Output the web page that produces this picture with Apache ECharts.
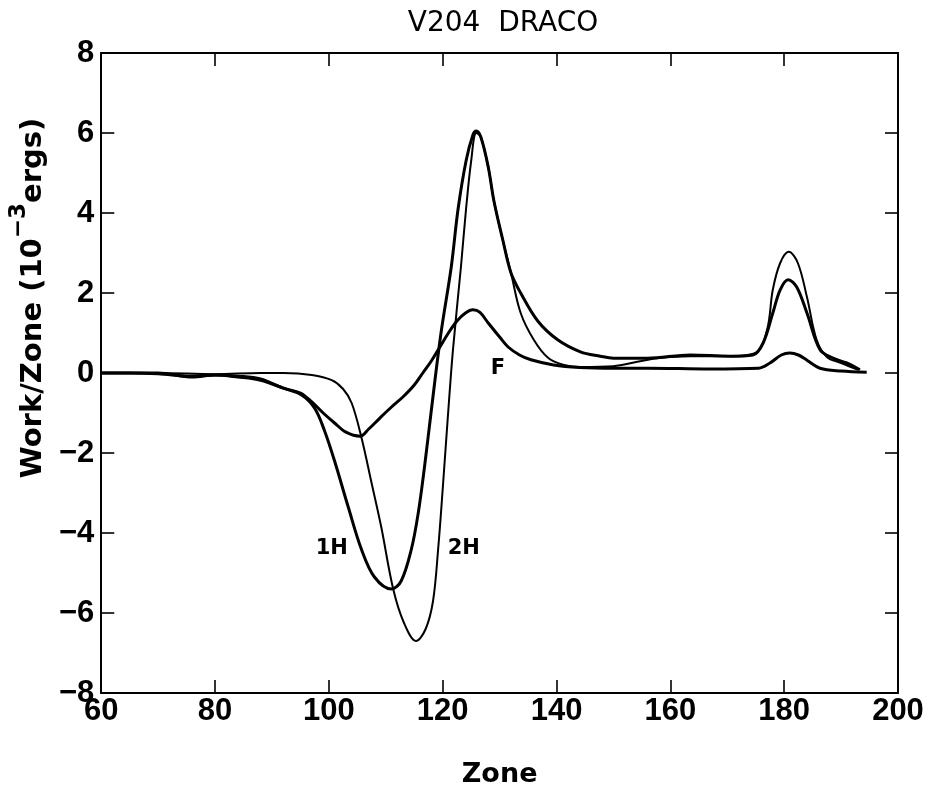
<!DOCTYPE html>
<html>
<head>
<meta charset="utf-8">
<script src="https://cdn.jsdelivr.net/npm/echarts/dist/echarts.min.js"></script>
<style>
html,body{margin:0;padding:0;background:#fff;}
#chart{width:937px;height:793px;}
</style>
</head>
<body>
<div id="chart"></div>
<script>
// ---- data ----
var xTicks = [60, 80, 100, 120, 140, 160, 180, 200];
var yTicks = [-8, -6, -4, -2, 0, 2, 4, 6, 8];

var fZone = [60, 65, 70, 76, 80, 84, 88, 92, 95, 97, 99, 101, 103, 105.5, 107, 109, 111, 113, 115, 116.5, 118, 119.5, 121, 122.5, 124, 125.3, 126.5, 128, 130, 131.5, 133.5, 135.5, 139.5, 144, 150, 156, 167, 175.5, 177.5, 179.5, 181, 182.5, 184, 186.3, 190, 194.5];
var fWork = [0, 0, -0.02, -0.08, -0.05, -0.08, -0.15, -0.38, -0.5, -0.72, -1.0, -1.25, -1.48, -1.58, -1.4, -1.12, -0.85, -0.6, -0.3, 0, 0.3, 0.65, 1.0, 1.3, 1.5, 1.58, 1.52, 1.25, 0.9, 0.65, 0.45, 0.33, 0.2, 0.14, 0.12, 0.12, 0.1, 0.12, 0.25, 0.45, 0.5, 0.45, 0.32, 0.12, 0.05, 0.02];

var h1Zone = [60, 70, 76, 80, 84, 88, 92, 95.2, 97.5, 99.2, 101, 103.4, 105.7, 108, 111, 112.7, 114.5, 115.7, 116.8, 118, 119.7, 121.5, 122.7, 124.1, 125.3, 125.9, 126.7, 128, 129, 130.6, 132, 133.7, 136.7, 140.2, 144.2, 147.7, 150, 156, 163.5, 170.5, 174.5, 176.3, 178, 179.3, 180.7, 182.2, 184, 186.3, 188.6, 191, 193.3];
var h1Work = [0, 0, -0.1, -0.05, -0.1, -0.18, -0.38, -0.55, -0.88, -1.43, -2.2, -3.35, -4.4, -5.1, -5.4, -5.2, -4.4, -3.5, -2.35, -0.93, 1.0, 2.65, 4.1, 5.3, 5.95, 6.05, 5.9, 5.15, 4.3, 3.3, 2.5, 2.0, 1.3, 0.83, 0.53, 0.42, 0.37, 0.37, 0.45, 0.42, 0.45, 0.75, 1.5, 2.08, 2.33, 2.15, 1.5, 0.58, 0.37, 0.25, 0.08];

var h2Zone = [60, 70, 80, 88, 92, 97, 100.5, 102.5, 104, 105.7, 107.5, 109.2, 111.3, 113.2, 115.3, 117, 118.3, 119.2, 120, 120.9, 121.8, 123.2, 124.1, 125, 125.9, 126.7, 128, 129, 130.6, 132, 133.7, 136, 138.5, 141.3, 144.2, 150, 154.2, 157.7, 163.5, 170.5, 175, 177, 178, 179.3, 180.8, 182.4, 184, 185.7, 187.5, 190, 193];
var h2Work = [0, 0, -0.03, 0, 0, -0.05, -0.18, -0.4, -0.75, -1.6, -2.75, -3.85, -5.4, -6.25, -6.7, -6.4, -5.7, -4.4, -2.9, -1.1, 0.58, 2.65, 4.1, 5.3, 6.0, 5.9, 5.15, 4.3, 3.3, 2.5, 1.5, 0.83, 0.38, 0.2, 0.15, 0.17, 0.28, 0.37, 0.42, 0.42, 0.5, 1.08, 2.08, 2.75, 3.03, 2.75, 1.9, 0.83, 0.4, 0.25, 0.08];

var curveLabels = ['1H', '2H', 'F'];
var labelZone = [100.5, 123.7, 129.7];
var labelWork = [-4.4, -4.4, 0.1];

function zip(a, b) { return a.map(function (v, i) { return [v, b[i]]; }); }

var chart = echarts.init(document.getElementById('chart'));
var fontFam = '"Liberation Sans", Arial, sans-serif';
var nameFam = '"DejaVu Sans", sans-serif';
var lineStyleAxis = { color: '#000', width: 2 };
var tickStyle = { show: true, inside: true, length: 13, lineStyle: { color: '#000', width: 1.6 } };

chart.setOption({
  animation: false,
  backgroundColor: '#fff',
  title: {
    text: 'V204  DRACO',
    left: 498, top: 5, textAlign: 'center',
    textStyle: { fontFamily: nameFam, fontSize: 28, fontWeight: 'normal', color: '#000' }
  },
  grid: { left: 99, right: 39, top: 53, bottom: 100 },
  xAxis: [{
    type: 'value', position: 'bottom', min: 60, max: 200, interval: 20,
    name: 'Zone', nameLocation: 'middle', nameGap: 68,
    nameTextStyle: { fontFamily: nameFam, fontSize: 27, fontWeight: 'bold', color: '#000' },
    axisLine: { show: true, onZero: false, lineStyle: lineStyleAxis },
    axisTick: tickStyle,
    axisLabel: { fontFamily: fontFam, fontSize: 31, fontWeight: 'bold', color: '#000', margin: 3 },
    splitLine: { show: false }
  }, {
    type: 'value', position: 'top', min: 60, max: 200, interval: 20,
    axisLine: { show: true, onZero: false, lineStyle: lineStyleAxis },
    axisTick: tickStyle,
    axisLabel: { show: false },
    splitLine: { show: false }
  }],
  yAxis: [{
    type: 'value', position: 'left', min: -8, max: 8, interval: 2,
    name: '{a|Work/Zone (10}{s|−3}{a|ergs)}', nameLocation: 'middle', nameGap: 52, nameRotate: 90,
    nameTextStyle: {
      padding: [0, 0, 0, 150],
      rich: {
        a: { fontFamily: nameFam, fontSize: 29, fontWeight: 'bold', color: '#000', lineHeight: 40, verticalAlign: 'bottom' },
        s: { fontFamily: nameFam, fontSize: 23, fontWeight: 'bold', color: '#000', lineHeight: 40, verticalAlign: 'top' }
      }
    },
    axisLine: { show: true, onZero: false, lineStyle: lineStyleAxis },
    axisTick: tickStyle,
    axisLabel: {
      fontFamily: fontFam, fontSize: 31, fontWeight: 'bold', color: '#000', margin: 7,
      formatter: function (v) { return v < 0 ? '−' + Math.abs(v) : String(v); }
    },
    splitLine: { show: false }
  }, {
    type: 'value', position: 'right', min: -8, max: 8, interval: 2,
    axisLine: { show: true, onZero: false, lineStyle: lineStyleAxis },
    axisTick: tickStyle,
    axisLabel: { show: false },
    splitLine: { show: false }
  }],
  series: [{
    name: 'F', type: 'line', data: zip(fZone, fWork), smooth: 0.35, showSymbol: false,
    lineStyle: { color: '#000', width: 3 }
  }, {
    name: '1H', type: 'line', data: zip(h1Zone, h1Work), smooth: 0.35, showSymbol: false,
    lineStyle: { color: '#000', width: 3 }
  }, {
    name: '2H', type: 'line', data: zip(h2Zone, h2Work), smooth: 0.35, showSymbol: false,
    lineStyle: { color: '#000', width: 2 }
  }]
});

// curve name annotations, placed at data coordinates through the axes
chart.setOption({
  graphic: curveLabels.map(function (t, i) {
    var p = chart.convertToPixel({ xAxisIndex: 0, yAxisIndex: 0 }, [labelZone[i], labelWork[i]]);
    return {
      type: 'text', x: p[0], y: p[1],
      style: {
        text: t, fill: '#000', font: 'bold 21px "DejaVu Sans", sans-serif',
        textAlign: 'center', textVerticalAlign: 'middle'
      }
    };
  })
});
</script>
</body>
</html>
